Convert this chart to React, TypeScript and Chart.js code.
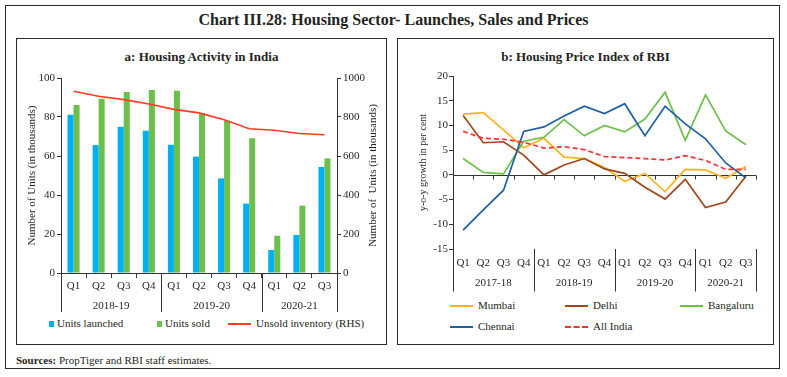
import React, { useEffect, useRef } from "react";
import { Chart, registerables } from "chart.js";

Chart.register(...registerables);

// ---------- Data: panel a ----------
const quartersA = ["Q1", "Q2", "Q3", "Q4", "Q1", "Q2", "Q3", "Q4", "Q1", "Q2", "Q3"];
const yearsA = ["2018-19", "2019-20", "2020-21"];
const yearCountsA = [4, 4, 3];
const unitsLaunched = [81.2, 65.6, 75.0, 73.0, 65.8, 59.7, 48.5, 35.6, 11.8, 19.5, 54.4];
const unitsSold = [86.2, 89.4, 92.8, 93.8, 93.5, 82.1, 78.1, 69.1, 19.1, 34.5, 58.8];
const unsoldInventory = [932, 906, 889, 867, 839, 821, 786, 740, 732, 715, 709];

// ---------- Data: panel b ----------
const quartersB = ["Q1", "Q2", "Q3", "Q4", "Q1", "Q2", "Q3", "Q4", "Q1", "Q2", "Q3", "Q4", "Q1", "Q2", "Q3"];
const yearsB = ["2017-18", "2018-19", "2019-20", "2020-21"];
const yearCountsB = [4, 4, 4, 3];
const mumbai = [12.3, 12.6, 9.1, 5.5, 7.4, 3.6, 3.3, 1.5, -1.3, 0.3, -3.4, 1.1, 1.0, -0.7, 1.7];
const delhi = [12.0, 6.5, 6.7, 4.0, 0.0, 2.0, 3.3, 1.2, 0.3, -2.5, -4.9, -0.9, -6.6, -5.5, -0.3];
const bangaluru = [3.3, 0.5, 0.2, 6.8, 7.6, 11.2, 7.9, 10.0, 8.7, 11.3, 16.7, 7.0, 16.2, 8.9, 6.1];
const chennai = [-11.2, -7.1, -3.1, 8.8, 9.7, 11.9, 13.9, 12.4, 14.4, 7.9, 13.9, 10.3, 7.3, 2.4, -0.6];
const allIndia = [8.8, 7.4, 7.2, 6.6, 5.4, 5.7, 5.1, 3.7, 3.5, 3.3, 3.0, 3.9, 2.9, 1.1, 1.1];

// ---------- Styles ----------
const FONT = "'Liberation Serif', 'Times New Roman', serif";
const TEXT = "#231f20";
const AXIS = "#333333";
const C_BLUE = "#00b0f0";
const C_GREEN = "#6cbf4a";
const C_RED = "#ff3a1f";
const C_MUMBAI = "#ffb21e";
const C_DELHI = "#a0461c";
const C_BANG = "#6cc04a";
const C_CHENNAI = "#1f5fa3";
const C_ALL = "#ff3030";

Chart.defaults.font.family = FONT;
Chart.defaults.font.size = 11;
Chart.defaults.color = TEXT;

const groupPlugin = {
  id: "groups",
  afterDraw(chart: any, _args: any, opts: any) {
    if (!opts || !opts.labels) return;
    const x = chart.scales.x;
    const ctx = chart.ctx;
    const bottom = chart.chartArea.bottom;
    const half = (x.getPixelForValue(1) - x.getPixelForValue(0)) / 2;
    ctx.save();
    ctx.strokeStyle = AXIS;
    ctx.lineWidth = 1;
    ctx.fillStyle = TEXT;
    ctx.font = "11px " + FONT;
    ctx.textAlign = "center";
    ctx.textBaseline = "middle";
    const edges: number[] = [x.getPixelForValue(0) - half];
    let start = 0;
    opts.counts.forEach((c: number, gi: number) => {
      const l = x.getPixelForValue(start) - half;
      const r = x.getPixelForValue(start + c - 1) + half;
      ctx.fillText(opts.labels[gi], (l + r) / 2, bottom + opts.labelOffset);
      edges.push(r);
      start += c;
    });
    edges.forEach((e) => {
      const px = Math.round(e) + 0.5;
      ctx.beginPath();
      ctx.moveTo(px, bottom);
      ctx.lineTo(px, bottom + opts.sepLength);
      ctx.stroke();
    });
    if (opts.rightTitle) {
      const cy = (chart.chartArea.top + chart.chartArea.bottom) / 2;
      ctx.translate(chart.chartArea.right + opts.rightTitleOffset, cy);
      ctx.rotate(-Math.PI / 2);
      ctx.fillText(opts.rightTitle, 0, 0);
    }
    ctx.restore();
  },
};

const zeroLinePlugin = {
  id: "zeroLine",
  beforeDatasetsDraw(chart: any, _args: any, opts: any) {
    if (!opts || !opts.enabled) return;
    const x = chart.scales.x;
    const y = chart.scales.y;
    const ctx = chart.ctx;
    const y0 = Math.round(y.getPixelForValue(0)) + 0.5;
    const n = x.ticks.length;
    const half = (x.getPixelForValue(1) - x.getPixelForValue(0)) / 2;
    ctx.save();
    ctx.strokeStyle = AXIS;
    ctx.lineWidth = 1;
    ctx.beginPath();
    ctx.moveTo(chart.chartArea.left, y0);
    ctx.lineTo(chart.chartArea.right, y0);
    for (let i = 0; i <= n; i++) {
      const px = Math.round(x.getPixelForValue(0) - half + i * 2 * half) + 0.5;
      ctx.moveTo(px, y0);
      ctx.lineTo(px, y0 + 4);
    }
    ctx.stroke();
    ctx.restore();
  },
};

function PanelA() {
  const ref = useRef<HTMLCanvasElement | null>(null);
  useEffect(() => {
    if (!ref.current) return;
    const chart = new Chart(ref.current, {
      type: "bar",
      data: {
        labels: quartersA,
        datasets: [
          {
            type: "line",
            label: "Unsold inventory (RHS)",
            data: unsoldInventory,
            yAxisID: "y2",
            borderColor: C_RED,
            borderWidth: 1.6,
            pointRadius: 0,
            tension: 0,
            order: 0,
          } as any,
          {
            label: "Units launched",
            data: unitsLaunched,
            backgroundColor: C_BLUE,
            yAxisID: "y",
            barPercentage: 1,
            categoryPercentage: 0.48,
            order: 1,
          },
          {
            label: "Units sold",
            data: unitsSold,
            backgroundColor: C_GREEN,
            yAxisID: "y",
            barPercentage: 1,
            categoryPercentage: 0.48,
            order: 1,
          },
        ],
      },
      options: {
        responsive: false,
        animation: false,
        layout: { padding: { top: 12, right: 0, left: 0, bottom: 0 } },
        plugins: {
          legend: { display: false },
          tooltip: { enabled: false },
          groups: {
            labels: yearsA,
            counts: yearCountsA,
            labelOffset: 33,
            sepLength: 39,
            rightTitle: "Number of  Units (in thousands)",
            rightTitleOffset: 36,
          },
        } as any,
        scales: {
          x: {
            offset: true,
            grid: { display: true, offset: true, drawOnChartArea: false, drawTicks: true, tickLength: 5, color: AXIS },
            border: { display: true, color: AXIS, width: 1 },
            ticks: { padding: 2, color: TEXT, font: { size: 11 }, maxRotation: 0, autoSkip: false },
            afterFit: (s: any) => { s.height = 43; },
          },
          y: {
            position: "left",
            min: 0,
            max: 100,
            ticks: { stepSize: 20, padding: 2, color: TEXT, font: { size: 11 } },
            grid: { display: true, drawOnChartArea: false, drawTicks: true, tickLength: 4, color: AXIS },
            border: { display: true, color: AXIS, width: 1 },
            title: { display: true, text: "Number of Units (in thousands)", color: TEXT, font: { size: 11 }, padding: { top: 8, bottom: 0 } },
            afterFit: (s: any) => { s.width = 43; },
          },
          y2: {
            position: "right",
            min: 0,
            max: 1000,
            ticks: { stepSize: 200, padding: 2, color: TEXT, font: { size: 11 }, callback: (v: any) => String(v) },
            grid: { display: true, drawOnChartArea: false, drawTicks: true, tickLength: 4, color: AXIS },
            border: { display: true, color: AXIS, width: 1 },
            afterFit: (s: any) => { s.width = 48; },
          },
        },
      } as any,
      plugins: [groupPlugin as any],
    });
    return () => chart.destroy();
  }, []);
  return <canvas ref={ref} width={367} height={250} style={{ position: "absolute", left: 18, top: 66 }} />;
}

function PanelB() {
  const ref = useRef<HTMLCanvasElement | null>(null);
  useEffect(() => {
    if (!ref.current) return;
    const mk = (label: string, data: number[], color: string, dash?: number[]) => ({
      label,
      data,
      borderColor: color,
      backgroundColor: color,
      borderWidth: 1.7,
      borderDash: dash || [],
      pointRadius: 0,
      tension: 0,
      fill: false,
    });
    const chart = new Chart(ref.current, {
      type: "line",
      data: {
        labels: quartersB,
        datasets: [
          mk("All India", allIndia, C_ALL, [5, 3]),
          mk("Chennai", chennai, C_CHENNAI),
          mk("Bangaluru", bangaluru, C_BANG),
          mk("Delhi", delhi, C_DELHI),
          mk("Mumbai", mumbai, C_MUMBAI),
        ],
      },
      options: {
        responsive: false,
        animation: false,
        layout: { padding: { top: 10, right: 17, left: 0, bottom: 0 } },
        plugins: {
          legend: { display: false },
          tooltip: { enabled: false },
          groups: { labels: yearsB, counts: yearCountsB, labelOffset: 34.5, sepLength: 42.5 },
          zeroLine: { enabled: true },
        } as any,
        scales: {
          x: {
            offset: true,
            grid: { display: false, drawTicks: false },
            border: { display: false },
            ticks: { padding: 8, color: TEXT, font: { size: 11 }, maxRotation: 0, autoSkip: false },
            afterFit: (s: any) => { s.height = 47; },
          },
          y: {
            min: -15,
            max: 20,
            ticks: { stepSize: 5, padding: 1, color: TEXT, font: { size: 11 } },
            grid: { display: true, drawOnChartArea: false, drawTicks: true, tickLength: 4, color: AXIS },
            border: { display: true, color: AXIS, width: 1 },
            title: { display: true, text: "y-o-y growth in per cent", color: TEXT, font: { size: 10 }, padding: { top: 18, bottom: 0 } },
            afterFit: (s: any) => { s.width = 54; },
          },
        },
      } as any,
      plugins: [groupPlugin as any, zeroLinePlugin as any],
    });
    return () => chart.destroy();
  }, []);
  return <canvas ref={ref} width={374} height={230} style={{ position: "absolute", left: 399, top: 66 }} />;
}

const textStyle: React.CSSProperties = {
  position: "absolute",
  fontFamily: FONT,
  fontSize: 11,
  color: TEXT,
  whiteSpace: "nowrap",
  lineHeight: "12px",
};

function LineKey({ x, y, color, dashed, label }: { x: number; y: number; color: string; dashed?: boolean; label: string }) {
  return (
    <>
      <div
        style={{
          position: "absolute",
          left: x,
          top: y - 1,
          width: 23,
          height: 0,
          borderTop: `2px ${dashed ? "dashed" : "solid"} ${color}`,
        }}
      />
      <div style={{ ...textStyle, left: x + 28, top: y - 7 }}>{label}</div>
    </>
  );
}

function BoxKey({ x, y, color, label }: { x: number; y: number; color: string; label: string }) {
  return (
    <>
      <div style={{ position: "absolute", left: x, top: y - 3, width: 5, height: 6, background: color }} />
      <div style={{ ...textStyle, left: x + 8, top: y - 7 }}>{label}</div>
    </>
  );
}

export default function App() {
  return (
    <div style={{ position: "absolute", left: 0, top: 0, width: 787, height: 377, background: "#fff", overflow: "hidden" }}>
      <div style={{ position: "absolute", left: 5, top: 5, width: 775, height: 364, border: "1.5px solid #2b2b2b", boxSizing: "border-box" }} />
      <div
        style={{
          position: "absolute",
          left: 0,
          width: 787,
          top: 10,
          textAlign: "center",
          fontFamily: FONT,
          fontWeight: "bold",
          fontSize: 16,
          lineHeight: "20px",
          color: TEXT,
        }}
      >
        Chart III.28: Housing Sector- Launches, Sales and Prices
      </div>

      {/* Panel a */}
      <div style={{ position: "absolute", left: 16, top: 38, width: 371, height: 307, border: "1.3px solid #2b2b2b", boxSizing: "border-box" }} />
      <div
        style={{
          position: "absolute",
          left: 16,
          width: 371,
          top: 49,
          textAlign: "center",
          fontFamily: FONT,
          fontWeight: "bold",
          fontSize: 13,
          lineHeight: "16px",
          color: TEXT,
        }}
      >
        a: Housing Activity in India
      </div>
      <PanelA />
      <BoxKey x={49} y={324} color={C_BLUE} label="Units launched" />
      <BoxKey x={157} y={324} color={C_GREEN} label="Units sold" />
      <LineKey x={228} y={324} color={C_RED} label="Unsold inventory (RHS)" />

      {/* Panel b */}
      <div style={{ position: "absolute", left: 397, top: 38, width: 377, height: 307, border: "1.3px solid #2b2b2b", boxSizing: "border-box" }} />
      <div
        style={{
          position: "absolute",
          left: 397,
          width: 377,
          top: 49,
          textAlign: "center",
          fontFamily: FONT,
          fontWeight: "bold",
          fontSize: 13,
          lineHeight: "16px",
          color: TEXT,
        }}
      >
        b: Housing Price Index of RBI
      </div>
      <PanelB />
      <LineKey x={450} y={306} color={C_MUMBAI} label="Mumbai" />
      <LineKey x={565} y={306} color={C_DELHI} label="Delhi" />
      <LineKey x={680} y={306} color={C_BANG} label="Bangaluru" />
      <LineKey x={450} y={327} color={C_CHENNAI} label="Chennai" />
      <LineKey x={565} y={327} color={C_ALL} dashed label="All India" />

      <div style={{ ...textStyle, left: 16, top: 354 }}>
        <b>Sources:</b> PropTiger and RBI staff estimates.
      </div>
    </div>
  );
}
